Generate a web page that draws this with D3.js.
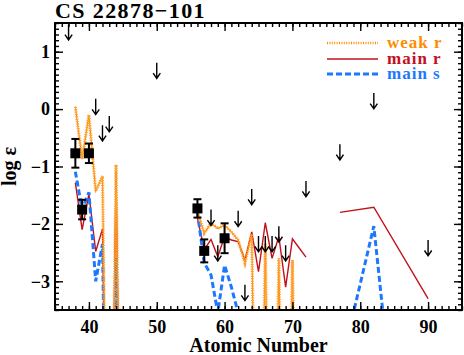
<!DOCTYPE html>
<html>
<head>
<meta charset="utf-8">
<script src="https://cdn.jsdelivr.net/npm/d3@7"></script>
<style>
  body { margin: 0; background: #fff; }
  text { font-family: "Liberation Serif", "DejaVu Serif", serif; font-weight: bold; }
</style>
</head>
<body>
<script>
// measured abundances
var obsZ   = [38, 39, 40, 56, 57, 60];
var obsVal = [-0.77, -1.75, -0.77, -1.73, -2.47, -2.25];
var obsErr = [0.25, 0.17, 0.17, 0.16, 0.20, 0.26];

// upper limits
var limZ   = [37, 41, 42, 43, 50, 58, 59, 62, 63, 64, 65, 66, 67, 68, 69, 72, 77, 82, 90];
var limVal = [1.34, 0.04, -0.42, -0.26, 0.67, -1.89, -2.51, -1.91, -3.2, -1.53, -2.35, -2.35, -2.35, -2.18, -2.51, -1.39, -0.75, 0.14, -2.42];

// scaled model patterns (null = not plotted)
var modelZ = [38, 39, 40, 41, 42, 43, 44, 45, 46,
              56, 57, 58, 59, 60, 61, 62, 63, 64, 65, 66, 67, 68, 69, 70, 71, 72, 73,
              77, 82, 90];
var weakR = [0.04, -0.87, -0.10, -1.43, -1.17, -10, -0.97, -10, null,
             -1.79, -2.16, -1.99, -2.08, -2.02, -2.14, -2.28, -2.68, -2.18, -10, -2.34, -10, -2.6, -10, -2.63, -10, null, null,
             null, null, null];
var mainR = [-1.28, -2.10, -1.48, -2.48, -2.09, -10, -1.1, -10, null,
             -1.9, -2.45, -2.27, -2.57, -2.22, -2.28, -2.31, -2.63, -2.14, -2.83, -1.98, -2.6, -2.22, -3.1, -2.26, -2.42, -2.58, null,
             -1.80, -1.71, -3.3];
var mainS = [-1.09, -1.75, -1.45, -3.0, -2.35, -10, -2.6, -10, null,
             -1.8, -2.68, -2.89, -3.55, -2.72, -3.1, -3.55, -4.2, -4.5, -4.5, -4.5, -4.5, -4.5, -4.5, -4.5, -4.5, -4.5, null,
             -4.55, -2.04, -11];

var xTicks = [40, 50, 60, 70, 80, 90];
var yTicks = [-3, -2, -1, 0, 1];

var seriesNames = ["weak r", "main r", "main s"];
var seriesColors = ["#ff8c00", "#c3101c", "#1e78ff"];

var width = 464, height = 355;
var pL = 55, pR = 462, pT = 23, pB = 310;

var svg = d3.select("body").append("svg")
    .attr("width", width)
    .attr("height", height);

var xScale = d3.scaleLinear().domain([35, 95]).range([pL, pR]);
var yScale = d3.scaleLinear().domain([-3.5, 1.5]).range([pB, pT]);

svg.append("clipPath").attr("id", "clip")
  .append("rect")
    .attr("x", pL).attr("y", pT)
    .attr("width", pR - pL).attr("height", pB - pT);

// model lines
function lineFor(vals) {
  return d3.line()
    .defined(function(d, i) { return vals[i] !== null; })
    .x(function(d) { return xScale(d); })
    .y(function(d, i) { return yScale(vals[i]); })(modelZ);
}

var plot = svg.append("g").attr("clip-path", "url(#clip)");

plot.append("path")
    .attr("d", lineFor(mainR))
    .attr("fill", "none")
    .attr("stroke", seriesColors[1])
    .attr("stroke-width", 1.4);
plot.append("path")
    .attr("d", lineFor(mainS))
    .attr("fill", "none")
    .attr("stroke", seriesColors[2])
    .attr("stroke-width", 3)
    .attr("stroke-dasharray", "6,3");
plot.append("path")
    .attr("d", lineFor(weakR))
    .attr("fill", "none")
    .attr("stroke", seriesColors[0])
    .attr("stroke-width", 1.2);
plot.append("path")
    .attr("d", lineFor(weakR))
    .attr("fill", "none")
    .attr("stroke", "#ffa030")
    .attr("stroke-width", 3.2)
    .attr("stroke-dasharray", "1,1.4");

// upper limit arrows
svg.selectAll(".lim")
    .data(limZ)
  .enter().append("path")
    .attr("class", "lim")
    .attr("transform", function(d, i) { return "translate(" + xScale(d) + "," + yScale(limVal[i]) + ")"; })
    .attr("d", "M0,-8V7.5M-3.6,2.5L0,7.8L3.6,2.5")
    .attr("fill", "none")
    .attr("stroke", "#000")
    .attr("stroke-width", 1.4);

// error bars
var eb = svg.selectAll(".eb")
    .data(obsZ)
  .enter().append("g")
    .attr("class", "eb")
    .attr("stroke", "#000")
    .attr("stroke-width", 2);
eb.append("line")
    .attr("x1", function(d) { return xScale(d); })
    .attr("x2", function(d) { return xScale(d); })
    .attr("y1", function(d, i) { return yScale(obsVal[i] - obsErr[i]); })
    .attr("y2", function(d, i) { return yScale(obsVal[i] + obsErr[i]); });
eb.append("line")
    .attr("x1", function(d) { return xScale(d) - 4; })
    .attr("x2", function(d) { return xScale(d) + 4; })
    .attr("y1", function(d, i) { return yScale(obsVal[i] - obsErr[i]); })
    .attr("y2", function(d, i) { return yScale(obsVal[i] - obsErr[i]); });
eb.append("line")
    .attr("x1", function(d) { return xScale(d) - 4; })
    .attr("x2", function(d) { return xScale(d) + 4; })
    .attr("y1", function(d, i) { return yScale(obsVal[i] + obsErr[i]); })
    .attr("y2", function(d, i) { return yScale(obsVal[i] + obsErr[i]); });

svg.selectAll(".dot")
    .data(obsZ)
  .enter().append("rect")
    .attr("class", "dot")
    .attr("x", function(d) { return xScale(d) - 5; })
    .attr("y", function(d, i) { return yScale(obsVal[i]) - 5; })
    .attr("width", 10)
    .attr("height", 10)
    .attr("fill", "#000");

// axes: major ticks inward, minor ticks unlabeled
var xMinor = d3.range(35, 96, 1);
var yMinor = d3.range(-35, 16, 1).map(function(v) { return v / 10; });

function styleAxis(g) {
  g.select(".domain").remove();
  g.selectAll("line").attr("stroke", "#000").attr("stroke-width", 1.4);
  g.selectAll("text").attr("font-size", 18).attr("fill", "#000")
    .attr("font-family", "Liberation Serif, serif").attr("font-weight", "bold");
}

svg.append("g").attr("transform", "translate(0," + pB + ")")
    .call(d3.axisBottom(xScale).tickValues(xMinor).tickSize(-4).tickFormat(""))
    .call(styleAxis);
svg.append("g").attr("transform", "translate(0," + pB + ")")
    .call(d3.axisBottom(xScale).tickValues(xTicks).tickSize(-8).tickPadding(10).tickFormat(d3.format("d")))
    .call(styleAxis);
svg.append("g").attr("transform", "translate(0," + pT + ")")
    .call(d3.axisTop(xScale).tickValues(xMinor).tickSize(-4).tickFormat(""))
    .call(styleAxis);
svg.append("g").attr("transform", "translate(0," + pT + ")")
    .call(d3.axisTop(xScale).tickValues(xTicks).tickSize(-8).tickFormat(""))
    .call(styleAxis);

svg.append("g").attr("transform", "translate(" + pL + ",0)")
    .call(d3.axisLeft(yScale).tickValues(yMinor).tickSize(-4).tickFormat(""))
    .call(styleAxis);
svg.append("g").attr("transform", "translate(" + pL + ",0)")
    .call(d3.axisLeft(yScale).tickValues(yTicks).tickSize(-8).tickPadding(5).tickFormat(d3.format("d")))
    .call(styleAxis);
svg.append("g").attr("transform", "translate(" + pR + ",0)")
    .call(d3.axisRight(yScale).tickValues(yMinor).tickSize(-4).tickFormat(""))
    .call(styleAxis);
svg.append("g").attr("transform", "translate(" + pR + ",0)")
    .call(d3.axisRight(yScale).tickValues(yTicks).tickSize(-8).tickFormat(""))
    .call(styleAxis);

svg.append("rect")
    .attr("x", pL).attr("y", pT)
    .attr("width", pR - pL).attr("height", pB - pT)
    .attr("fill", "none")
    .attr("stroke", "#000")
    .attr("stroke-width", 2);

// titles
svg.append("text")
    .attr("x", pL)
    .attr("y", 18)
    .attr("font-size", 22)
    .attr("letter-spacing", 1.4)
    .text("CS 22878\u2212101");

svg.append("text")
    .attr("x", (pL + pR) / 2)
    .attr("y", 352)
    .attr("text-anchor", "middle")
    .attr("font-size", 20)
    .text("Atomic Number");

svg.append("text")
    .attr("transform", "translate(16," + (pT + pB) / 2 + ") rotate(-90)")
    .attr("text-anchor", "middle")
    .attr("font-size", 20)
    .text("log \u03b5");

// legend
var legY = [43, 59, 74];
var leg = svg.selectAll(".leg")
    .data(seriesNames)
  .enter().append("g")
    .attr("class", "leg")
    .attr("transform", function(d, i) { return "translate(0," + legY[i] + ")"; });
leg.append("line")
    .attr("x1", 327).attr("x2", 378)
    .attr("stroke", function(d, i) { return seriesColors[i]; })
    .attr("stroke-width", function(d, i) { return [2.4, 1.4, 3][i]; })
    .attr("stroke-dasharray", function(d, i) { return ["1,1.4", null, "6,3"][i]; });
leg.append("text")
    .attr("x", 387)
    .attr("y", 5)
    .attr("font-size", 17)
    .attr("letter-spacing", 1)
    .attr("fill", function(d, i) { return seriesColors[i]; })
    .text(function(d) { return d; });
</script>
</body>
</html>
